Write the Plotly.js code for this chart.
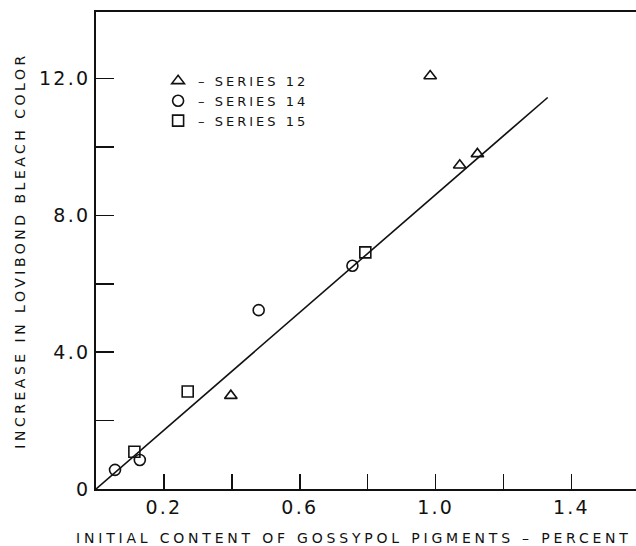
<!DOCTYPE html>
<html><head><meta charset="utf-8">
<script src="https://cdn.plot.ly/plotly-3.0.1.min.js"></script>
<style>
html,body{margin:0;padding:0;background:#fff;}
#chart{width:636px;height:546px;}
.ytitle{letter-spacing:3.5px;}
.annotation-text{letter-spacing:3.8px;}
.legendtext{letter-spacing:3px;}
.xtick text,.ytick text{letter-spacing:2.2px;}
</style></head><body><div id="chart"></div>
<script>
const series12X = [0.397, 0.984, 1.071, 1.123];
const series12Y = [2.73, 12.08, 9.47, 9.80];
const series14X = [0.056, 0.129, 0.479, 0.755];
const series14Y = [0.56, 0.85, 5.23, 6.53];
const series15X = [0.113, 0.270, 0.793];
const series15Y = [1.09, 2.85, 6.92];
const fitX = [0, 1.33];
const fitY = [0, 11.45];
const xTickVals = [0.2, 0.4, 0.6, 0.8, 1.0, 1.2, 1.4];
const xTickText = ['0.2', '', '0.6', '', '1.0', '', '1.4'];
const yTickVals = [0, 2, 4, 6, 8, 10, 12];
const yTickText = ['0', '', '4.0', '', '8.0', '', '12.0'];
const seriesNames = ['\u2013 SERIES 12', '\u2013 SERIES 14', '\u2013 SERIES 15'];
const xTitle = 'INITIAL CONTENT OF GOSSYPOL PIGMENTS \u2013 PERCENT';
const yTitle = 'INCREASE IN LOVIBOND BLEACH COLOR';

const ink = '#111';
const mk = (sym) => ({symbol: sym, size: 11, color: ink, line: {color: ink, width: 1.6}});

const traces = [
  {x: fitX, y: fitY, mode: 'lines', line: {color: ink, width: 1.6}, showlegend: false, hoverinfo: 'skip'},
  {x: series12X, y: series12Y, mode: 'markers', name: seriesNames[0], marker: mk('triangle-up-open')},
  {x: series14X, y: series14Y, mode: 'markers', name: seriesNames[1], marker: mk('circle-open')},
  {x: series15X, y: series15Y, mode: 'markers', name: seriesNames[2], marker: mk('square-open')}
];

const layout = {
  width: 636, height: 546,
  margin: {l: 96, r: 0, t: 12, b: 57},
  paper_bgcolor: '#fff', plot_bgcolor: '#fff',
  font: {family: 'DejaVu Sans, sans-serif', color: ink},
  showlegend: true,
  legend: {x: 0.115, y: 0.887, xanchor: 'left', yanchor: 'top', bgcolor: 'rgba(0,0,0,0)',
           font: {size: 13, color: ink}, itemwidth: 30, traceorder: 'normal'},
  xaxis: {
    range: [0, 1.59], showgrid: false, zeroline: false,
    showline: true, linecolor: ink, linewidth: 2, mirror: true,
    ticks: 'inside', ticklen: 15, tickwidth: 1.5, tickcolor: ink,
    tickmode: 'array', tickvals: xTickVals, ticktext: xTickText,
    tickfont: {size: 19, color: ink}
  },
  yaxis: {
    range: [0, 13.95], showgrid: false, zeroline: false,
    showline: true, linecolor: ink, linewidth: 2,
    ticks: 'inside', ticklen: 18, tickwidth: 1.5, tickcolor: ink,
    tickmode: 'array', tickvals: yTickVals, ticktext: yTickText,
    tickfont: {size: 19, color: ink},
    title: {text: yTitle, font: {size: 14, color: ink}, standoff: 10}
  },
  annotations: [{
    text: xTitle, xref: 'paper', yref: 'paper', x: 0.9963, y: -0.1027,
    xanchor: 'right', yanchor: 'middle', showarrow: false,
    font: {size: 14, color: ink}
  }]
};

Plotly.newPlot('chart', traces, layout, {displayModeBar: false, staticPlot: true});
</script></body></html>
